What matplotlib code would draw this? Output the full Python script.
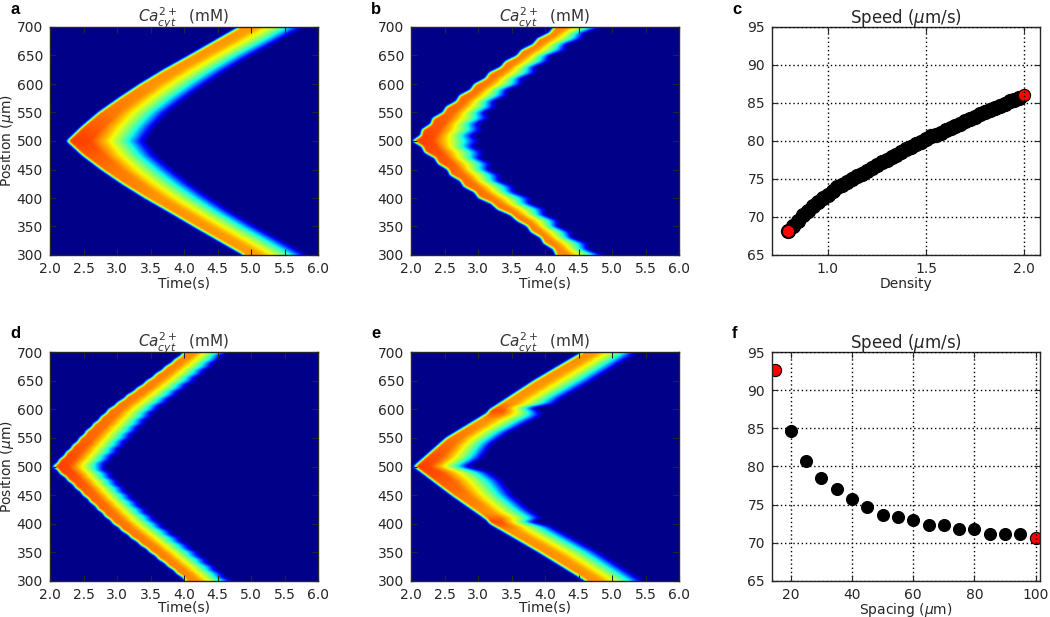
import numpy as np
import matplotlib
matplotlib.use("Agg")
import matplotlib.pyplot as plt

plt.rcParams['font.family'] = ['DejaVu Sans']
plt.rcParams['mathtext.fontset'] = 'dejavusans'

W, H = 1050, 617
INK = '#262626'

# ---- decay profile of the calcium pulse behind the front
profile_u = [0.0, 0.30, 0.48, 0.64, 0.78, 0.90, 1.0]
profile_v = [1.0, 0.98, 0.83, 0.64, 0.42, 0.18, 0.0]

# ---- panel a (smooth)
a_pos = [300, 325, 350, 375, 400, 425, 450, 475, 500, 525, 550, 575, 600, 625, 650, 675, 700]
a_front = [4.86, 4.49, 4.12, 3.76, 3.39, 3.05, 2.74, 2.46, 2.23, 2.45, 2.70, 3.00, 3.32, 3.67, 4.05, 4.42, 4.79]
a_tail = [5.85, 5.48, 5.10, 4.74, 4.42, 4.12, 3.85, 3.60, 3.44, 3.58, 3.78, 4.05, 4.35, 4.67, 5.02, 5.42, 5.80]
a_peak_pos = [300, 400, 450, 500, 550, 600, 700]
a_peak = [0.75, 0.76, 0.79, 0.85, 0.79, 0.76, 0.75]

# ---- panel b (lobed, 20 um)
b_pos = [300, 320, 340, 360, 380, 400, 420, 440, 460, 480, 500, 520, 540, 560, 580, 600, 620, 640, 660, 680, 700]
b_front = [4.13, 3.95, 3.76, 3.55, 3.26, 2.98, 2.76, 2.56, 2.38, 2.18, 2.00, 2.14, 2.30, 2.50, 2.70, 2.92, 3.14, 3.38, 3.62, 3.86, 4.10]
b_tail = [4.87, 4.65, 4.40, 4.22, 4.02, 3.80, 3.55, 3.35, 3.22, 3.10, 3.03, 3.08, 3.18, 3.28, 3.45, 3.68, 3.88, 4.07, 4.32, 4.57, 4.85]
b_peak_pos = [300, 400, 450, 500, 550, 600, 700]
b_peak = [0.77, 0.79, 0.81, 0.85, 0.81, 0.79, 0.77]
b_front_notch = 0.05
b_tail_notch = 0.12

# ---- panel d (lobed, 12.5 um)
d_pos = [300, 312.5, 325, 337.5, 350, 362.5, 375, 387.5, 400, 412.5, 425, 437.5, 450, 462.5, 475, 487.5, 500,
         512.5, 525, 537.5, 550, 562.5, 575, 587.5, 600, 612.5, 625, 637.5, 650, 662.5, 675, 687.5, 700]
d_front = [4.00, 3.87, 3.74, 3.60, 3.47, 3.33, 3.19, 3.05, 2.92, 2.80, 2.69, 2.58, 2.47, 2.36, 2.25, 2.13, 2.02,
           2.12, 2.22, 2.32, 2.42, 2.52, 2.63, 2.74, 2.85, 2.99, 3.13, 3.28, 3.42, 3.56, 3.70, 3.84, 3.97]
d_tail = [4.74, 4.61, 4.49, 4.36, 4.24, 4.10, 3.97, 3.83, 3.69, 3.58, 3.46, 3.35, 3.24, 3.14, 3.04, 2.95, 2.85,
          2.95, 3.05, 3.14, 3.24, 3.34, 3.44, 3.54, 3.64, 3.78, 3.92, 4.05, 4.19, 4.31, 4.44, 4.56, 4.69]
d_peak_pos = [300, 400, 450, 500, 550, 600, 700]
d_peak = [0.77, 0.79, 0.81, 0.85, 0.81, 0.79, 0.77]
d_front_notch = 0.02
d_tail_notch = 0.06

# ---- panel e (defect at 400 and 600 um)
e_front_pos = [300, 350, 400, 407, 450, 500, 550, 593, 600, 650, 700]
e_front = [4.57, 3.88, 3.15, 3.10, 2.58, 2.02, 2.50, 3.10, 3.15, 3.80, 4.52]
e_tail_pos = [300, 350, 395, 403, 410, 425, 450, 475, 490, 500, 515, 540, 560, 590, 597, 603, 610, 620, 650, 700]
e_tail = [5.47, 4.82, 4.12, 3.83, 3.97, 3.78, 3.53, 3.38, 3.20, 2.86, 3.08, 3.23, 3.48, 3.97, 3.93, 3.83, 4.17, 4.27, 4.72, 5.39]
e_peak_pos = [300, 388, 403, 418, 450, 500, 550, 583, 598, 612, 700]
e_peak = [0.76, 0.76, 0.84, 0.76, 0.79, 0.85, 0.79, 0.76, 0.84, 0.76, 0.76]

# ---- panel c
density = [0.8, 0.825, 0.85, 0.875, 0.9, 0.925, 0.95, 0.975, 1.0, 1.025, 1.05, 1.075, 1.1, 1.125, 1.15, 1.175,
           1.2, 1.225, 1.25, 1.275, 1.3, 1.325, 1.35, 1.375, 1.4, 1.425, 1.45, 1.475, 1.5, 1.525, 1.55, 1.575,
           1.6, 1.625, 1.65, 1.675, 1.7, 1.725, 1.75, 1.775, 1.8, 1.825, 1.85, 1.875, 1.9, 1.925, 1.95, 1.975]
speed_density = [68.1, 68.8, 69.5, 70.2, 70.8, 71.4, 72.0, 72.5, 72.9, 73.4, 73.9, 74.2, 74.6, 75.0, 75.4, 75.7,
                 76.1, 76.4, 76.8, 77.2, 77.5, 77.9, 78.2, 78.6, 78.9, 79.2, 79.6, 79.9, 80.3, 80.6, 80.8, 81.1,
                 81.4, 81.7, 82.0, 82.3, 82.6, 82.9, 83.2, 83.5, 83.8, 84.1, 84.3, 84.6, 84.9, 85.2, 85.4, 85.7]
density_ends = [0.8, 2.0]
speed_density_ends = [68.1, 86.0]

# ---- panel f
spacing = [20, 25, 30, 35, 40, 45, 50, 55, 60, 65, 70, 75, 80, 85, 90, 95]
speed_spacing = [84.7, 80.7, 78.5, 77.0, 75.7, 74.7, 73.6, 73.4, 73.0, 72.4, 72.4, 71.8, 71.8, 71.2, 71.2, 71.2]
spacing_ends = [15, 100]
speed_spacing_ends = [92.6, 70.6]

time_ticks = [2.0, 2.5, 3.0, 3.5, 4.0, 4.5, 5.0, 5.5, 6.0]
pos_ticks = [300, 350, 400, 450, 500, 550, 600, 650, 700]
speed_ticks = [65, 70, 75, 80, 85, 90, 95]
density_ticks = [1.0, 1.5, 2.0]
spacing_ticks = [20, 40, 60, 80, 100]
CA_TITLE = r'$Ca_{cyt}^{2+}$  (mM)'
SPEED_TITLE = r'Speed ($\mu$m/s)'

t_grid = np.arange(2.0, 6.0, 0.01)
p_grid = np.arange(300, 700.5, 1.0)


def with_notches(pos, vals, depth):
    """Insert a notch between neighbouring lobe nodes."""
    pos = np.asarray(pos, float)
    vals = np.asarray(vals, float)
    mid_p = (pos[:-1] + pos[1:]) / 2
    mid_v = (vals[:-1] + vals[1:]) / 2 + depth
    px = np.empty(pos.size + mid_p.size)
    vx = np.empty(px.size)
    px[0::2], px[1::2] = pos, mid_p
    vx[0::2], vx[1::2] = vals, mid_v
    return px, vx


def soften(z, sigma, axis):
    r = int(3 * sigma)
    k = np.exp(-0.5 * (np.arange(-r, r + 1) / sigma) ** 2)
    k /= k.sum()
    pad = [(0, 0), (0, 0)]
    pad[axis] = (r, r)
    zp = np.pad(z, pad, mode='edge')
    return np.apply_along_axis(lambda v: np.convolve(v, k, mode='valid'), axis, zp)


def field(fp, fv, tp, tv, pp, pv):
    tf = np.interp(p_grid, fp, fv)[:, None]
    tb = np.interp(p_grid, tp, tv)[:, None]
    peak = np.interp(p_grid, pp, pv)[:, None]
    T = t_grid[None, :]
    u = (T - tf) / (tb - tf)
    rise = np.clip((T - tf) / 0.04, 0, 1)
    z = peak * rise * np.interp(u, profile_u, profile_v, left=0, right=0)
    return soften(soften(z, 2.0, 0), 1.5, 1)


def rect(x0, x1, y0, y1):
    return [x0 / W, 1 - y1 / H, (x1 - x0) / W, (y1 - y0) / H]


def style(ax):
    ax.tick_params(direction='in', length=4, width=0.8, top=True, right=True,
                   labelsize=10, pad=5, colors=INK)
    for s in ax.spines.values():
        s.set_linewidth(1.0)
        s.set_color(INK)


fig = plt.figure(figsize=(W / 100, H / 100), dpi=100)

f_b, t_b = with_notches(b_pos, b_front, b_front_notch), with_notches(b_pos, b_tail, -b_tail_notch)
f_d, t_d = with_notches(d_pos, d_front, d_front_notch), with_notches(d_pos, d_tail, -d_tail_notch)

heat = [
    ('a', (50, 318, 27, 255), (a_pos, a_front, a_pos, a_tail, a_peak_pos, a_peak), True, 0.5),
    ('b', (411, 679, 27, 255), (*f_b, *t_b, b_peak_pos, b_peak), False, 0.5),
    ('d', (50, 318, 352, 581), (*f_d, *t_d, d_peak_pos, d_peak), True, -0.8),
    ('e', (411, 679, 352, 581), (e_front_pos, e_front, e_tail_pos, e_tail, e_peak_pos, e_peak), False, -0.8),
]
for name, box, args, ylab, lpad in heat:
    ax = fig.add_axes(rect(*box))
    ax.imshow(field(*args), origin='lower', aspect='auto', cmap='jet', vmin=-0.01, vmax=1,
              extent=[2, 6, 300, 700], interpolation='bilinear')
    ax.set_xlim(2, 6)
    ax.set_ylim(300, 700)
    ax.set_xticks(time_ticks)
    ax.set_yticks(pos_ticks)
    style(ax)
    ax.set_xlabel('Time(s)', fontsize=10, labelpad=lpad, color=INK)
    if ylab:
        ax.set_ylabel(r'Position ($\mu$m)', fontsize=10, color=INK)
        ax.yaxis.set_label_coords(-0.125, 0.5)
    ax.set_title(CA_TITLE, fontsize=11, pad=3, color='#333333')

scat = [
    ('c', (772, 1040, 27, 255), density, speed_density, density_ends, speed_density_ends,
     (0.717, 2.08), density_ticks, 'Density', 10.2, 0.5),
    ('f', (772, 1040, 352, 581), spacing, speed_spacing, spacing_ends, speed_spacing_ends,
     (13.9, 101.4), spacing_ticks, r'Spacing ($\mu$m)', 8.6, -0.8),
]
for name, box, x, y, xe, ye, xl, xt, lab, ms, lpad in scat:
    ax = fig.add_axes(rect(*box))
    ax.plot(x, y, 'o', color='black', ms=ms, mew=0.8, mec='black', zorder=2)
    ax.plot(xe, ye, 'o', color='red', ms=8.8, mew=0.8, mec='black', zorder=2)
    ax.set_xlim(*xl)
    ax.set_ylim(65, 95)
    ax.set_xticks(xt)
    ax.set_yticks(speed_ticks)
    ax.set_axisbelow(False)
    ax.grid(True, color='black', linestyle=(0, (1, 2)), linewidth=1.0)
    style(ax)
    ax.set_xlabel(lab, fontsize=10, labelpad=lpad, color=INK)
    ax.set_title(SPEED_TITLE, fontsize=12, pad=3, color=INK)

letters = {'a': (10, 9), 'b': (371, 9), 'c': (732, 9), 'd': (10, 334), 'e': (371, 334), 'f': (732, 334)}
for k, (x, y) in letters.items():
    fig.text(x / W, 1 - y / H, k, fontsize=12, fontweight='bold', family='Liberation Sans',
             ha='left', va='center', color='black')

fig.savefig('out.png', dpi=100)
